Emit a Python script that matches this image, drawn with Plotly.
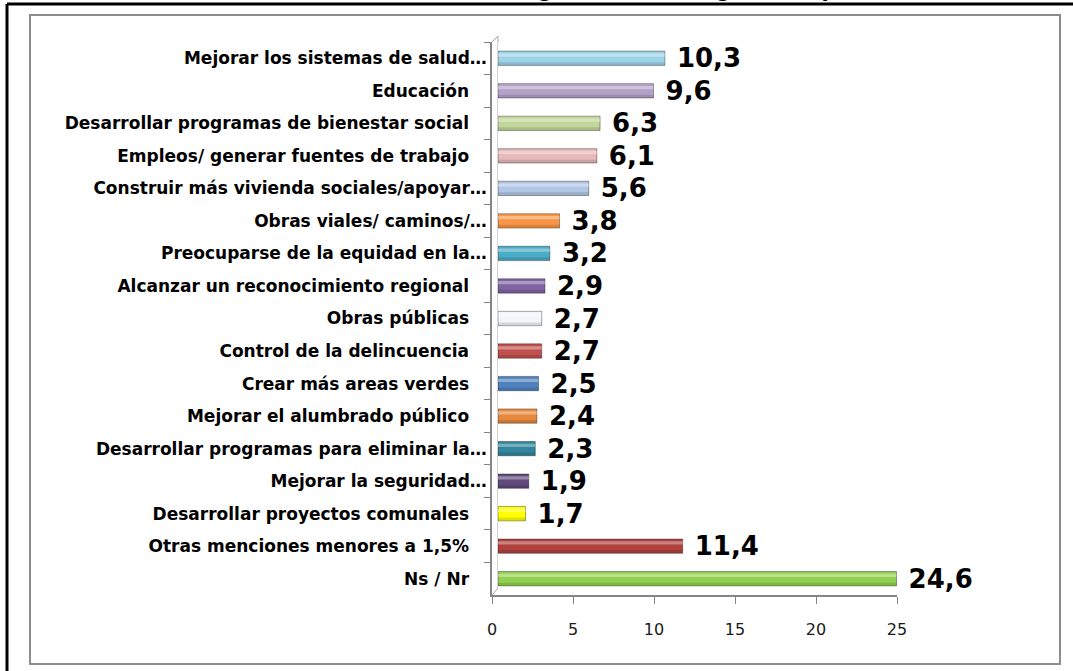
import plotly.graph_objects as go

categorias = [
    "Mejorar los sistemas de salud…",
    "Educación",
    "Desarrollar programas de bienestar social",
    "Empleos/ generar fuentes de trabajo",
    "Construir más vivienda sociales/apoyar…",
    "Obras viales/ caminos/…",
    "Preocuparse de la equidad en la…",
    "Alcanzar un reconocimiento regional",
    "Obras públicas",
    "Control de la delincuencia",
    "Crear más areas verdes",
    "Mejorar el alumbrado público",
    "Desarrollar programas para eliminar la…",
    "Mejorar la seguridad…",
    "Desarrollar proyectos comunales",
    "Otras menciones menores a 1,5%",
    "Ns / Nr",
]
porcentajes = [10.3, 9.6, 6.3, 6.1, 5.6, 3.8, 3.2, 2.9, 2.7, 2.7, 2.5, 2.4, 2.3, 1.9, 1.7, 11.4, 24.6]
colores = [
    "#9DD3E6", "#B3A2C7", "#C3D69B", "#E6B9B8", "#B0C6E4", "#F79646",
    "#4BACC6", "#8064A2", "#F2F6FB", "#C0504D", "#4F81BD", "#E6893E",
    "#31859C", "#604A7B", "#FFFF00", "#B0413E", "#92D050",
]
titulo = "Temas más urgentes de la región (respuesta única)"

# page pixels: front axis 492..897 (0..25), bars drawn 6px deeper (3d look)
L, R, T, B = 492, 903, 42, 595
PROF = 6
W, H = 1073, 671


def px(x):
    return (x - L) / (R - L)


def py(y):
    return (B - y) / (B - T)


etiquetas = [c if c.endswith("…") else c + "\u00a0" * 3 for c in categorias]
textos = ["\u00a0" + f"{v:.1f}".replace(".", ",") for v in porcentajes]
n = len(etiquetas)

fig = go.Figure()
# invisible trace so the front x axis gets drawn
fig.add_trace(go.Scatter(
    x=[0], y=[etiquetas[0]], mode="markers",
    marker=dict(opacity=0), hoverinfo="skip",
))
fig.add_trace(go.Bar(
    x=porcentajes,
    y=etiquetas,
    xaxis="x2",
    orientation="h",
    width=0.44,
    marker=dict(color=colores, line=dict(color="rgba(0,0,0,0.35)", width=1)),
    text=textos,
    textposition="outside",
    constraintext="none",
    textfont=dict(family="DejaVu Sans", size=26, color="black", weight="bold"),
    cliponaxis=False,
    hoverinfo="x+y",
))
# light and dark strips to hint at the cylinder look
fig.add_trace(go.Bar(
    x=porcentajes, y=etiquetas, xaxis="x2", orientation="h",
    width=0.10, offset=-0.15,
    marker=dict(color="rgba(255,255,255,0.35)", line=dict(width=0)),
    hoverinfo="skip",
))
fig.add_trace(go.Bar(
    x=porcentajes, y=etiquetas, xaxis="x2", orientation="h",
    width=0.09, offset=0.12,
    marker=dict(color="rgba(0,0,0,0.12)", line=dict(width=0)),
    hoverinfo="skip",
))

lineas = []
# outer black frame (top and left only visible)
lineas.append(dict(type="line", x0=px(7), x1=px(1090), y0=py(4), y1=py(4),
                   line=dict(color="black", width=3)))
lineas.append(dict(type="line", x0=px(7), x1=px(7), y0=py(4), y1=py(690),
                   line=dict(color="black", width=3)))
# gray chart border
lineas.append(dict(type="rect", x0=px(30), x1=px(1060), y0=py(15), y1=py(664),
                   line=dict(color="#8C8C8C", width=2)))
# 3d wall hints
lineas.append(dict(type="line", x0=px(L + PROF), x1=px(L + PROF), y0=py(T - 6), y1=py(B - 7),
                   line=dict(color="#A6A6A6", width=1), layer="below"))
lineas.append(dict(type="line", x0=px(L), x1=px(L + PROF), y0=py(B), y1=py(B - 7),
                   line=dict(color="#A6A6A6", width=1), layer="below"))
lineas.append(dict(type="line", x0=px(L), x1=px(L + PROF), y0=py(T), y1=py(T - 6),
                   line=dict(color="#A6A6A6", width=1), layer="below"))
for s in lineas:
    s.update(xref="paper", yref="paper")

fig.update_layout(
    width=W,
    height=H,
    margin=dict(l=L, r=W - R, t=T, b=H - B),
    paper_bgcolor="white",
    plot_bgcolor="white",
    barmode="overlay",
    showlegend=False,
    shapes=lineas,
    font=dict(family="DejaVu Sans", color="black"),
    annotations=[dict(
        text=titulo, xref="paper", yref="paper", x=px(985), y=py(4),
        xanchor="right", yanchor="bottom", showarrow=False,
        font=dict(family="DejaVu Sans", size=21, color="black", weight="bold"),
    )],
    xaxis=dict(
        domain=[0, px(897)], range=[0, 25], dtick=5, showgrid=False, zeroline=False,
        showline=True, linecolor="#868686", linewidth=1.5,
        ticks="outside", ticklen=7, tickcolor="#868686",
        tickfont=dict(family="DejaVu Sans", size=16, color="#1A1A1A"),
        ticklabelstandoff=12,
    ),
    xaxis2=dict(
        domain=[px(L + PROF), 1], range=[0, 25], anchor="y",
        visible=False, showgrid=False, zeroline=False,
    ),
    yaxis=dict(
        anchor="x", range=[n - 0.5, -0.5], showgrid=False,
        showline=True, linecolor="#868686", linewidth=1.5,
        ticks="outside", ticklen=6, tickcolor="#868686", tickson="boundaries",
        tickfont=dict(family="DejaVu Sans", size=17, color="black", weight="bold"),
    ),
)

fig.write_html("out.html", config={"displayModeBar": False},
               post_script="document.body.style.margin='0';")
